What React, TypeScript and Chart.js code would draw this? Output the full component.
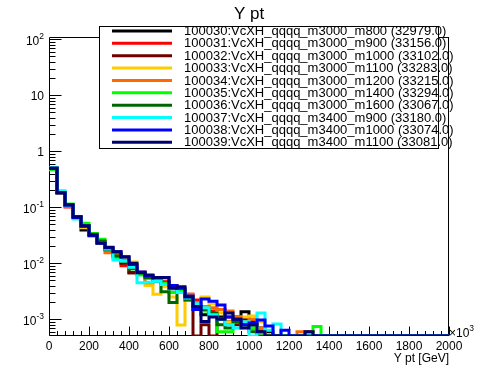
import React, { useEffect, useRef } from "react";
import { Chart, registerables } from "chart.js";

Chart.register(...registerables);

const TITLE = "Y pt";
const X_TITLE = "Y pt [GeV]";
const X_MIN = 0;
const X_MAX = 2000;
const BIN_WIDTH = 40;
const Y_MIN = 5.03e-4;
const Y_MAX = 110;
const X_TICK_LABELS = [0, 200, 400, 600, 800, 1000, 1200, 1400, 1600, 1800, 2000];
const Y_DECADES = [-3, -2, -1, 0, 1, 2];

const LABELS = [
  "100030:VcXH_qqqq_m3000_m800 (32979.0)",
  "100031:VcXH_qqqq_m3000_m900 (33156.0)",
  "100032:VcXH_qqqq_m3000_m1000 (33102.0)",
  "100033:VcXH_qqqq_m3000_m1100 (33283.0)",
  "100034:VcXH_qqqq_m3000_m1200 (33215.0)",
  "100035:VcXH_qqqq_m3000_m1400 (33294.0)",
  "100036:VcXH_qqqq_m3000_m1600 (33067.0)",
  "100037:VcXH_qqqq_m3400_m900 (33180.0)",
  "100038:VcXH_qqqq_m3400_m1000 (33074.0)",
  "100039:VcXH_qqqq_m3400_m1100 (33081.0)",
];

const COLORS = [
  "#000000",
  "#ff0000",
  "#700000",
  "#ffcc00",
  "#ff6a00",
  "#00ff00",
  "#006600",
  "#00ffff",
  "#0000ff",
  "#000070",
];

// 50 bins of 40 GeV each (0 - 2000 GeV)
const S100030 = [
  0.50, 0.182, 0.110, 0.068, 0.0395, 0.033, 0.024, 0.018, 0.0145, 0.0105,
  0.0068, 0.0065, 0.0055, 0.0050, 0.0046, 0.0035, 0.0032, 0.0025, 0.0015, 0.0012,
  0.0013, 0.0011, 0.0009, 0.0011, 0.00137, 0.0007, 0.0007, 0.0006, 0, 0,
  0, 0, 0, 0, 0, 0, 0, 0, 0, 0,
  0, 0, 0, 0, 0, 0, 0, 0, 0, 0,
];
const S100031 = [
  0.50, 0.183, 0.1015, 0.067, 0.045, 0.033, 0.024, 0.018, 0.014, 0.0090,
  0.0090, 0.0065, 0.0058, 0.0052, 0.0047, 0.0040, 0.0033, 0.0028, 0.0022, 0.0017,
  0.0014, 0.0015, 0.0011, 0.0010, 0.0008, 0.0009, 0.0006, 0, 0, 0,
  0, 0, 0.0006, 0, 0, 0, 0, 0, 0, 0,
  0, 0, 0, 0, 0, 0, 0, 0, 0, 0,
];
const S100032 = [
  0.50, 0.182, 0.110, 0.067, 0.046, 0.033, 0.024, 0.018, 0.014, 0.010,
  0.0068, 0.0068, 0.0056, 0.0050, 0.0045, 0.0038, 0.0030, 0.0025, 0, 0.0008,
  0, 0.0010, 0.0009, 0.0008, 0.0010, 0.0009, 0.0006, 0, 0, 0,
  0, 0, 0, 0, 0, 0, 0, 0, 0, 0,
  0, 0, 0, 0, 0, 0, 0, 0, 0, 0,
];
const S100033 = [
  0.50, 0.182, 0.110, 0.068, 0.043, 0.033, 0.024, 0.017, 0.014, 0.0125,
  0.0105, 0.0065, 0.0040, 0.0028, 0.0038, 0.0025, 0.00079, 0.0025, 0.0020, 0.0025,
  0.0019, 0.0013, 0.0009, 0.0010, 0.0011, 0.00115, 0.0009, 0, 0, 0,
  0, 0, 0, 0, 0, 0, 0, 0, 0, 0,
  0, 0, 0, 0, 0, 0, 0, 0, 0, 0,
];
const S100034 = [
  0.50, 0.182, 0.110, 0.068, 0.046, 0.033, 0.024, 0.0154, 0.014, 0.011,
  0.0085, 0.0070, 0.0045, 0.0050, 0.0044, 0.0040, 0.0035, 0.0028, 0.0020, 0.0017,
  0.0016, 0.0015, 0.0014, 0.0011, 0.0009, 0.0010, 0.0007, 0, 0, 0,
  0, 0.0006, 0.0006, 0, 0, 0, 0, 0, 0, 0,
  0, 0, 0, 0, 0, 0, 0, 0, 0, 0,
];
const S100035 = [
  0.47, 0.185, 0.115, 0.068, 0.052, 0.034, 0.027, 0.0175, 0.0125, 0.011,
  0.0080, 0.0062, 0.0055, 0.0052, 0.0044, 0.0030, 0.0032, 0.0022, 0.0016, 0.0014,
  0.0012, 0.0006, 0.0006, 0.0009, 0.0008, 0.0007, 0, 0, 0, 0,
  0, 0, 0, 0.00074, 0, 0, 0, 0, 0, 0,
  0, 0, 0, 0, 0, 0, 0, 0, 0, 0,
];
const S100036 = [
  0.50, 0.182, 0.110, 0.068, 0.047, 0.033, 0.025, 0.0175, 0.0135, 0.011,
  0.0080, 0.0068, 0.0055, 0.0048, 0.0031, 0.0020, 0.0030, 0.0022, 0.0018, 0.0015,
  0.0013, 0.0008, 0.0007, 0.0009, 0.0008, 0.0006, 0, 0, 0, 0,
  0, 0, 0, 0, 0, 0, 0, 0, 0, 0,
  0, 0, 0, 0, 0, 0, 0, 0, 0, 0,
];
const S100037 = [
  0.51, 0.198, 0.106, 0.062, 0.046, 0.031, 0.023, 0.018, 0.0114, 0.011,
  0.0085, 0.0045, 0.0046, 0.0048, 0.0042, 0.0035, 0.0030, 0.0024, 0.0019, 0.0016,
  0.0012, 0.0010, 0.0008, 0.0007, 0.0009, 0, 0.0013, 0.00064, 0.00082, 0,
  0, 0, 0, 0, 0, 0, 0, 0, 0, 0,
  0, 0, 0, 0, 0, 0, 0, 0, 0, 0,
];
const S100038 = [
  0.50, 0.182, 0.110, 0.066, 0.046, 0.031, 0.023, 0.019, 0.016, 0.013,
  0.0095, 0.0070, 0.0060, 0.0055, 0.0055, 0.0040, 0.0036, 0.0026, 0.0015, 0.0023,
  0.0021, 0.0018, 0.0011, 0.0010, 0.0008, 0.00086, 0.00097, 0.00076, 0, 0.00064,
  0, 0, 0.0005, 0, 0, 0, 0, 0, 0, 0,
  0, 0, 0, 0, 0, 0, 0, 0, 0, 0,
];
const S100039 = [
  0.50, 0.182, 0.110, 0.068, 0.047, 0.032, 0.0228, 0.0193, 0.0161, 0.0131,
  0.0100, 0.0068, 0.0062, 0.0056, 0.0056, 0.0036, 0.0038, 0.0025, 0.0017, 0.00091,
  0.0011, 0.0010, 0.0013, 0.0010, 0.0007, 0.0008, 0.0006, 0, 0, 0,
  0, 0, 0.0006, 0, 0, 0, 0, 0, 0, 0,
  0, 0, 0, 0, 0, 0, 0, 0, 0, 0,
];

const SERIES = [
  S100030, S100031, S100032, S100033, S100034,
  S100035, S100036, S100037, S100038, S100039,
];

const FONT = '"Liberation Sans", Arial, Helvetica, sans-serif';

const rootPlugin = {
  id: "rootStyle",
  beforeDatasetsDraw(chart: any) {
    const { ctx, chartArea: a, scales } = chart;
    const xs = scales.x;
    const ys = scales.y;
    ctx.save();
    ctx.strokeStyle = "#000";
    ctx.lineWidth = 1;
    const L = a.left + 0.5;
    const R = a.right - 0.5;
    const T = a.top + 0.5;
    const B = a.bottom - 0.5;
    ctx.beginPath();
    ctx.rect(L, T, R - L, B - T);
    for (let v = X_MIN; v <= X_MAX; v += BIN_WIDTH) {
      const px = Math.round(xs.getPixelForValue(v)) + 0.5;
      const len = v % 200 === 0 ? 9 : 4.5;
      ctx.moveTo(px, B);
      ctx.lineTo(px, B - len);
    }
    for (let d = -4; d <= 2; d++) {
      for (let m = 1; m <= 9; m++) {
        const v = m * Math.pow(10, d);
        if (v < Y_MIN || v > Y_MAX) continue;
        const py = Math.round(ys.getPixelForValue(v)) + 0.5;
        const len = m === 1 ? 12 : 6;
        ctx.moveTo(L, py);
        ctx.lineTo(L + len, py);
      }
    }
    ctx.stroke();
    ctx.restore();
  },
  afterDraw(chart: any) {
    const { ctx, chartArea: a, scales } = chart;
    const xs = scales.x;
    const ys = scales.y;
    ctx.save();
    ctx.fillStyle = "#000";
    ctx.font = `12px ${FONT}`;
    ctx.textAlign = "center";
    ctx.textBaseline = "alphabetic";
    for (const v of X_TICK_LABELS) {
      ctx.fillText(String(v), xs.getPixelForValue(v), 349.5);
    }
    const rx = 44;
    for (const d of Y_DECADES) {
      const py = ys.getPixelForValue(Math.pow(10, d));
      ctx.textAlign = "right";
      if (d === 0 || d === 1) {
        ctx.font = `12px ${FONT}`;
        ctx.fillText(d === 0 ? "1" : "10", rx, py + 4.5);
      } else {
        const sup = String(d);
        ctx.font = `8.5px ${FONT}`;
        const sw = ctx.measureText(sup).width;
        ctx.fillText(sup, rx, py - 0.5);
        ctx.font = `12px ${FONT}`;
        ctx.fillText("10", rx - sw, py + 5.5);
      }
    }
    ctx.textAlign = "left";
    ctx.font = `12px ${FONT}`;
    ctx.fillText("\u00d710", 449, 337);
    const w10 = ctx.measureText("\u00d710").width;
    ctx.font = `8.5px ${FONT}`;
    ctx.fillText("3", 449 + w10, 331);
    ctx.font = `12px ${FONT}`;
    ctx.textAlign = "right";
    ctx.fillText(X_TITLE, a.right, 362);
    ctx.font = `17px ${FONT}`;
    ctx.textAlign = "center";
    ctx.fillText(TITLE, 249, 19);
    const lx = 99.5, ly = 26.5, lw = 339, lh = 122;
    ctx.fillStyle = "#fff";
    ctx.fillRect(lx, ly, lw, lh);
    ctx.strokeStyle = "#000";
    ctx.lineWidth = 1;
    ctx.strokeRect(lx, ly, lw, lh);
    ctx.beginPath();
    ctx.moveTo(a.right - 0.5, a.top);
    ctx.lineTo(a.right - 0.5, ly + lh);
    ctx.moveTo(lx + lw, a.top + 0.5);
    ctx.lineTo(a.right, a.top + 0.5);
    ctx.stroke();
    ctx.font = `13px ${FONT}`;
    ctx.textAlign = "left";
    ctx.textBaseline = "middle";
    chart.data.datasets.forEach((ds: any, i: number) => {
      const cy = 31 + 12.37 * i;
      ctx.strokeStyle = ds.borderColor;
      ctx.lineWidth = 3;
      ctx.beginPath();
      ctx.moveTo(112, cy);
      ctx.lineTo(172, cy);
      ctx.stroke();
      ctx.fillStyle = "#000";
      ctx.fillText(ds.label, 184, cy + 0.5);
    });
    ctx.restore();
  },
};

export default function App() {
  const ref = useRef<HTMLCanvasElement | null>(null);
  useEffect(() => {
    if (!ref.current) return;
    const datasets = SERIES.map((vals, i) => {
      const pts = vals.map((v, k) => ({
        x: X_MIN + k * BIN_WIDTH,
        y: v > 0 ? v : Y_MIN,
      }));
      const last = vals[vals.length - 1];
      pts.push({ x: X_MAX, y: last > 0 ? last : Y_MIN });
      return {
        label: LABELS[i],
        data: pts,
        borderColor: COLORS[i],
        backgroundColor: COLORS[i],
        borderWidth: 3,
        pointRadius: 0,
        stepped: true,
        fill: false,
        tension: 0,
        borderJoinStyle: "miter" as const,
        borderCapStyle: "butt" as const,
        order: SERIES.length - 1 - i,
      };
    });
    const chart = new Chart(ref.current, {
      type: "line",
      data: { datasets },
      options: {
        responsive: false,
        animation: false,
        events: [],
        layout: { padding: { left: 49, right: 49, top: 37, bottom: 38 } },
        plugins: {
          legend: { display: false },
          tooltip: { enabled: false },
          title: { display: false },
        },
        scales: {
          x: { type: "linear", min: X_MIN, max: X_MAX, display: false },
          y: { type: "logarithmic", min: Y_MIN, max: Y_MAX, display: false },
        },
      },
      plugins: [rootPlugin],
    });
    return () => chart.destroy();
  }, []);
  return (
    <div
      style={{
        position: "absolute",
        left: 0,
        top: 0,
        width: 498,
        height: 374,
        background: "#fff",
      }}
    >
      <canvas ref={ref} width={498} height={374} style={{ display: "block" }} />
    </div>
  );
}
